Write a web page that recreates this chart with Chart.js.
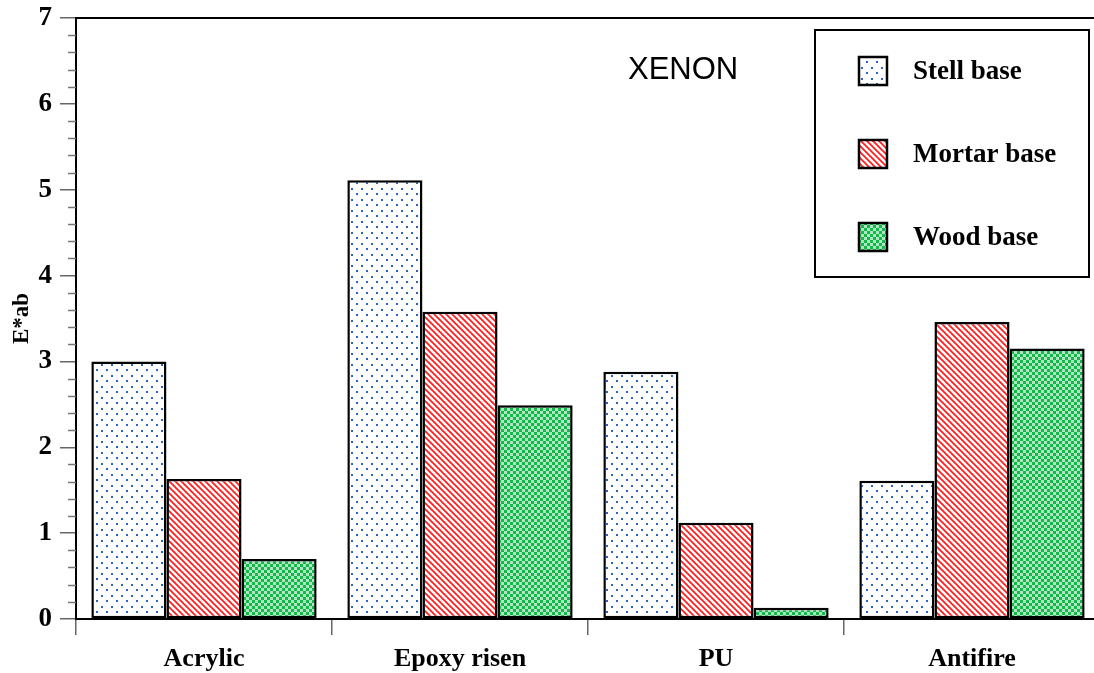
<!DOCTYPE html>
<html>
<head>
<meta charset="utf-8">
<script src="https://cdn.jsdelivr.net/npm/chart.js@4.4.1/dist/chart.umd.min.js"></script>
<style>
    html, body { margin: 0; padding: 0; background: #fff; overflow: hidden; }
    #wrap { width: 1100px; height: 673px; }
</style>
</head>
<body>
<div id="wrap"><canvas id="chart" width="1100" height="673"></canvas></div>
<script>
// Data
const categories = ['Acrylic', 'Epoxy risen', 'PU', 'Antifire'];
const stellBase = [3.0, 5.11, 2.88, 1.61];
const mortarBase = [1.63, 3.58, 1.12, 3.46];
const woodBase = [0.70, 2.49, 0.13, 3.15];
const seriesNames = ['Stell base', 'Mortar base', 'Wood base'];
const yTicks = [0, 1, 2, 3, 4, 5, 6, 7];

const serif = "'Liberation Serif', 'Times New Roman', serif";

/**
 * Build the fill patterns used by the bars
 */
function makePattern(kind) {
    const c = document.createElement('canvas');
    const g = c.getContext('2d');
    if (kind === 'dots') {
        c.width = 10; c.height = 11;
        g.fillStyle = '#fff';
        g.fillRect(0, 0, 10, 11);
        g.fillStyle = '#2a64c0';
        g.fillRect(1, 1, 2, 2);
        g.fillRect(6, 6, 2, 2);
    } else if (kind === 'hatch') {
        c.width = 6; c.height = 6;
        g.fillStyle = '#fff';
        g.fillRect(0, 0, 6, 6);
        g.strokeStyle = '#ff1f1f';
        g.lineWidth = 1.8;
        g.beginPath();
        g.moveTo(-1, -1); g.lineTo(7, 7);
        g.moveTo(-1, 5); g.lineTo(1, 7);
        g.moveTo(5, -1); g.lineTo(7, 1);
        g.stroke();
    } else {
        c.width = 6; c.height = 6;
        g.fillStyle = '#fff';
        g.fillRect(0, 0, 6, 6);
        g.fillStyle = '#14b84a';
        g.fillRect(0, 0, 3, 3);
        g.fillRect(3, 3, 3, 3);
        g.fillStyle = 'rgba(20,184,74,0.35)';
        g.fillRect(3, 0, 3, 3);
        g.fillRect(0, 3, 3, 3);
    }
    return g.createPattern(c, 'repeat');
}

const fills = [makePattern('dots'), makePattern('hatch'), makePattern('check')];

// Minor ticks, top frame line, title text and boxed legend
const decorations = {
    id: 'decorations',
    afterDraw(chart) {
        const ctx = chart.ctx;
        const area = chart.chartArea;
        const y = chart.scales.y;
        ctx.save();

        // minor ticks on y axis
        ctx.strokeStyle = '#777';
        ctx.lineWidth = 1.5;
        for (let i = 1; i < 35; i++) {
            if (i % 5 === 0) continue;
            const py = Math.round(y.getPixelForValue(i / 5)) + 0.5;
            ctx.beginPath();
            ctx.moveTo(area.left - 8, py);
            ctx.lineTo(area.left, py);
            ctx.stroke();
        }

        // top frame line
        ctx.strokeStyle = '#000';
        ctx.lineWidth = 2;
        ctx.beginPath();
        ctx.moveTo(area.left - 1, area.top);
        ctx.lineTo(chart.width, area.top);
        ctx.stroke();

        // XENON label
        ctx.fillStyle = '#000';
        ctx.font = "31px 'Liberation Sans', Arial, sans-serif";
        ctx.textAlign = 'left';
        ctx.textBaseline = 'middle';
        ctx.fillText('XENON', 628, 70);

        // legend box
        ctx.lineWidth = 2;
        ctx.strokeRect(815, 30, 274, 247);
        ctx.font = 'bold 27px ' + serif;
        chart.data.datasets.forEach((ds, i) => {
            const top = 57 + i * 83;
            ctx.fillStyle = ds.backgroundColor;
            ctx.fillRect(859, top, 28, 28);
            ctx.strokeStyle = '#000';
            ctx.lineWidth = 2.5;
            ctx.strokeRect(859, top, 28, 28);
            ctx.fillStyle = '#000';
            ctx.fillText(ds.label, 913, top + 15);
        });
        ctx.restore();
    }
};

const datasets = [stellBase, mortarBase, woodBase].map((values, i) => ({
    label: seriesNames[i],
    data: values,
    backgroundColor: fills[i],
    borderColor: '#000',
    borderWidth: 2.5,
    borderSkipped: false,
    barPercentage: 1.0,
    categoryPercentage: 0.88
}));

new Chart(document.getElementById('chart'), {
    type: 'bar',
    data: { labels: categories, datasets },
    options: {
        responsive: false,
        animation: false,
        devicePixelRatio: 1,
        layout: { padding: { top: 18, right: 0, left: 0, bottom: 0 } },
        plugins: {
            legend: { display: false },
            tooltip: { enabled: false }
        },
        scales: {
            x: {
                grid: {
                    display: true,
                    offset: true,
                    drawOnChartArea: false,
                    tickLength: 16,
                    color: '#666',
                    lineWidth: 1.5
                },
                border: { color: '#000', width: 2 },
                ticks: {
                    color: '#000',
                    font: { family: serif, size: 26, weight: 'bold' },
                    padding: 9
                },
                afterFit(scale) {
                    scale.height = 54;
                    scale.paddingLeft = 0;
                    scale.paddingRight = 0;
                }
            },
            y: {
                min: 0,
                max: 7,
                afterBuildTicks(scale) {
                    scale.ticks = yTicks.map(v => ({ value: v }));
                },
                grid: {
                    drawOnChartArea: false,
                    tickLength: 16,
                    color: '#666',
                    lineWidth: 1.5
                },
                border: { color: '#000', width: 2 },
                ticks: {
                    color: '#000',
                    font: { family: serif, size: 27, weight: 'bold' },
                    padding: 8
                },
                title: {
                    display: true,
                    text: 'E*ab',
                    color: '#000',
                    font: { family: serif, size: 23, weight: 'bold' },
                    padding: { top: 8, bottom: 0 }
                },
                afterFit(scale) {
                    scale.width = 76;
                    scale.paddingTop = 0;
                    scale.paddingBottom = 0;
                }
            }
        }
    },
    plugins: [decorations]
});
</script>
</body>
</html>
